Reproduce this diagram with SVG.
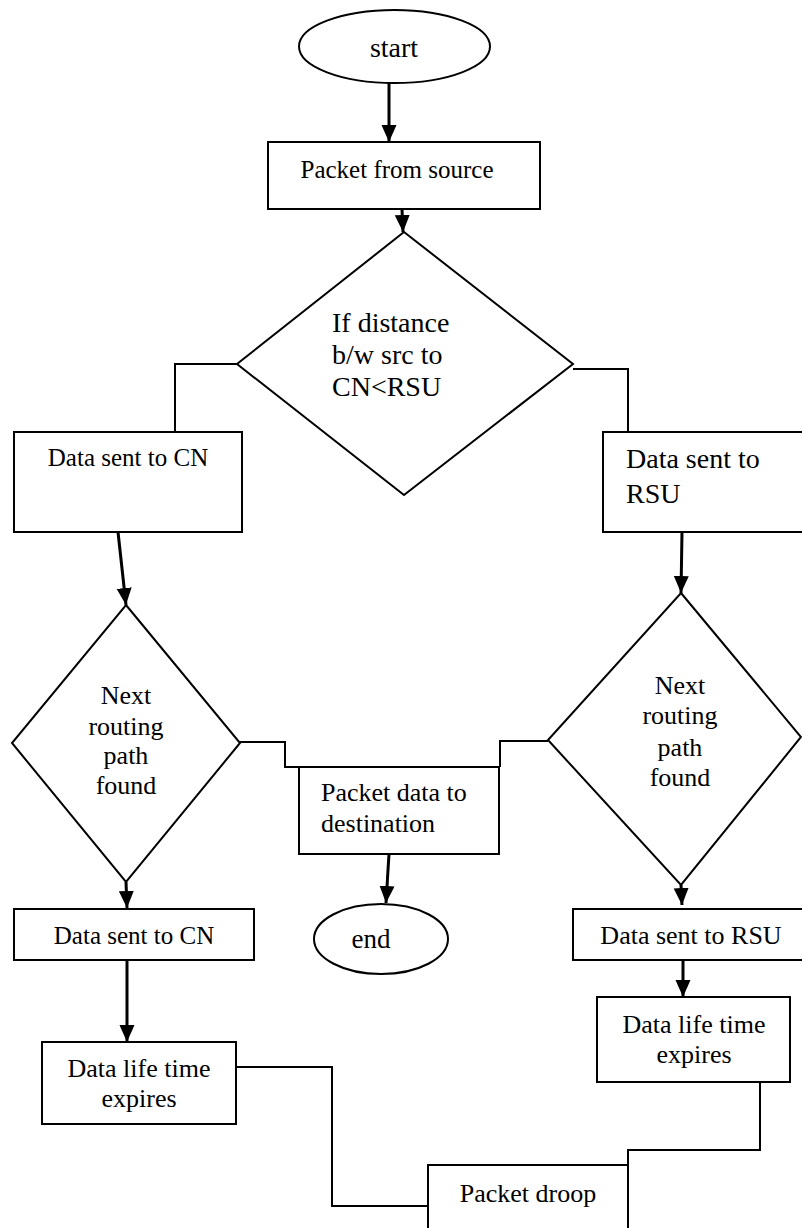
<svg xmlns="http://www.w3.org/2000/svg" width="802" height="1228" viewBox="0 0 802 1228" font-family="'Liberation Serif', 'Times New Roman', 'DejaVu Serif', serif">
<style>
.s{fill:#fff;stroke:#000;stroke-width:2}
.t{font-family:'Liberation Serif','Times New Roman','DejaVu Serif',serif;fill:#000}
.c{fill:none;stroke:#000;stroke-width:2}
.a{fill:none;stroke:#000;stroke-width:3}
</style>
<defs>
<marker id="ah" markerUnits="userSpaceOnUse" markerWidth="18" markerHeight="16" refX="17" refY="7.5" orient="auto">
<path d="M0,0 L17,7.5 L0,15 Z" fill="#000"/>
</marker>
</defs>
<rect width="802" height="1228" fill="#fff"/>
<g id="connectors">
<line class="a" x1="389" y1="83" x2="389" y2="142" marker-end="url(#ah)"/>
<line class="a" x1="402" y1="209" x2="403" y2="232" marker-end="url(#ah)"/>
<line class="a" x1="118" y1="532" x2="126" y2="605" marker-end="url(#ah)"/>
<line class="a" x1="682" y1="532" x2="681" y2="593" marker-end="url(#ah)"/>
<line class="a" x1="126" y1="882" x2="127" y2="908" marker-end="url(#ah)"/>
<line class="a" x1="681" y1="885" x2="682" y2="905" marker-end="url(#ah)"/>
<line class="a" x1="389" y1="854" x2="386" y2="903" marker-end="url(#ah)"/>
<line class="a" x1="127" y1="960" x2="127" y2="1042" marker-end="url(#ah)"/>
<line class="a" x1="683" y1="960" x2="683" y2="997" marker-end="url(#ah)"/>
<polyline class="c" points="237,364 175,364 175,432"/>
<polyline class="c" points="573,369 628,369 628,432"/>
<polyline class="c" points="240,742 285,742 285,767 299,767"/>
<polyline class="c" points="548,741 500,741 500,767"/>
<polyline class="c" points="236,1067 332,1067 332,1206 428,1206"/>
<polyline class="c" points="760,1082 760,1150 628,1150 628,1165"/>
</g>
<g id="start">
<ellipse class="s" cx="394.5" cy="46.5" rx="95.5" ry="36.5"/>
<text class="t" x="394" y="57" font-size="28" text-anchor="middle">start</text>
</g>
<g id="packet-from-source">
<rect class="s" x="268" y="142" width="272" height="67"/>
<text class="t" x="397" y="178" font-size="25" text-anchor="middle">Packet from source</text>
</g>
<g id="decision-distance">
<polygon class="s" points="404,232 573,364 404,495 237,364"/>
<text class="t" font-size="28"><tspan x="332" y="332">If distance</tspan><tspan x="332" y="364">b/w src to</tspan><tspan x="332" y="396">CN&lt;RSU</tspan></text>
</g>
<g id="data-sent-cn-1">
<rect class="s" x="14" y="432" width="228" height="100"/>
<text class="t" x="128" y="466" font-size="25" text-anchor="middle">Data sent to CN</text>
</g>
<g id="data-sent-rsu-1">
<rect class="s" x="603" y="432" width="210" height="100"/>
<text class="t" font-size="28"><tspan x="626" y="468">Data sent to</tspan><tspan x="626" y="503">RSU</tspan></text>
</g>
<g id="decision-cn">
<polygon class="s" points="126,605 240,743 126,882 12,743"/>
<text class="t" font-size="26" text-anchor="middle"><tspan x="126" y="704">Next</tspan><tspan x="126" y="735">routing</tspan><tspan x="126" y="764">path</tspan><tspan x="126" y="794">found</tspan></text>
</g>
<g id="decision-rsu">
<polygon class="s" points="681,593 801,737 681,885 548,740"/>
<text class="t" font-size="26" text-anchor="middle"><tspan x="680" y="694">Next</tspan><tspan x="680" y="724">routing</tspan><tspan x="680" y="756">path</tspan><tspan x="680" y="786">found</tspan></text>
</g>
<g id="packet-to-destination">
<rect class="s" x="299" y="767" width="200" height="87"/>
<text class="t" font-size="26"><tspan x="321" y="801">Packet data to</tspan><tspan x="321" y="832">destination</tspan></text>
</g>
<g id="end">
<ellipse class="s" cx="381" cy="939" rx="67" ry="35"/>
<text class="t" x="371" y="948" font-size="27" text-anchor="middle">end</text>
</g>
<g id="data-sent-cn-2">
<rect class="s" x="14" y="909" width="240" height="51"/>
<text class="t" x="134" y="944" font-size="25" text-anchor="middle">Data sent to CN</text>
</g>
<g id="data-sent-rsu-2">
<rect class="s" x="573" y="909" width="240" height="51"/>
<text class="t" x="691" y="944" font-size="26" text-anchor="middle">Data sent to RSU</text>
</g>
<g id="life-time-cn">
<rect class="s" x="42" y="1042" width="194" height="82"/>
<text class="t" font-size="26" text-anchor="middle"><tspan x="139" y="1077">Data life time</tspan><tspan x="139" y="1107">expires</tspan></text>
</g>
<g id="life-time-rsu">
<rect class="s" x="597" y="997" width="193" height="85"/>
<text class="t" font-size="26" text-anchor="middle"><tspan x="694" y="1033">Data life time</tspan><tspan x="694" y="1063">expires</tspan></text>
</g>
<g id="packet-droop">
<rect class="s" x="428" y="1165" width="200" height="80"/>
<text class="t" x="528" y="1202" font-size="26" text-anchor="middle">Packet droop</text>
</g>
</svg>
